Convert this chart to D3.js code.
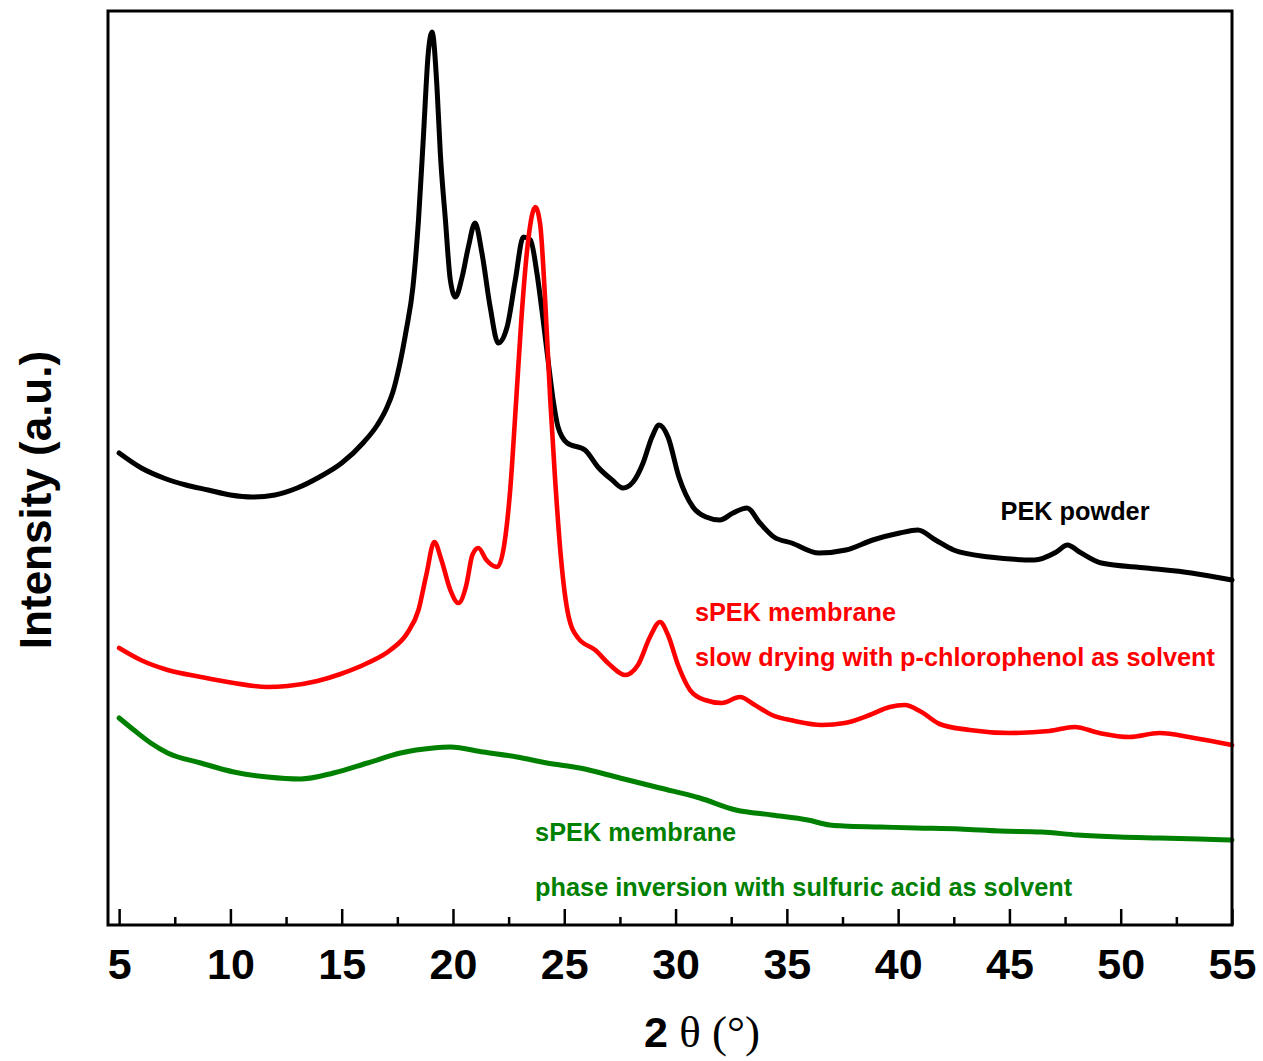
<!DOCTYPE html>
<html>
<head>
<meta charset="utf-8">
<script src="https://cdn.jsdelivr.net/npm/d3@7/dist/d3.min.js"></script>
<style>
  html, body { margin: 0; padding: 0; background: #fff; }
  svg { display: block; }
</style>
</head>
<body>
<svg id="chart" width="1263" height="1061"></svg>
<script>
// 2θ positions (degrees) and relative intensities (a.u.) for each pattern
const pekAngle = [5.0, 6.0, 7.0, 8.0, 9.0, 10.0, 11.0, 12.0, 13.0, 14.0, 15.0, 16.0, 16.6, 17.0, 17.3, 17.6, 17.9, 18.2, 18.45, 18.67, 18.89, 19.06, 19.28, 19.43, 19.66, 19.88, 20.11, 20.41, 20.69, 20.99, 21.3, 21.67, 22.03, 22.43, 22.8, 23.16, 23.48, 23.77, 24.05, 24.27, 24.5, 24.72, 25.13, 25.93, 26.51, 27.15, 27.64, 28.09, 28.54, 28.94, 29.26, 29.66, 30.15, 30.78, 31.37, 31.99, 32.58, 33.21, 33.79, 34.42, 35.22, 36.44, 37.65, 38.86, 40.07, 40.88, 41.68, 42.49, 44.1, 46.12, 47.11, 47.61, 48.15, 49.13, 51.15, 53.17, 55.0];
const pekIntensity = [472, 457, 447, 440, 435, 430, 428, 430, 437, 448, 462, 483, 500, 516, 533, 560, 595, 638, 705, 788, 872, 893, 838, 772, 705, 645, 628, 648, 678, 702, 672, 618, 582, 598, 645, 688, 685, 652, 605, 565, 525, 498, 482, 475, 458, 445, 437, 443, 462, 488, 500, 488, 448, 418, 408, 405, 412, 417, 402, 388, 382, 372, 375, 385, 392, 395, 385, 375, 368, 365, 373, 380, 373, 362, 357, 352, 345];

const slowAngle = [5.0, 5.97, 7.18, 8.67, 10.15, 11.67, 12.57, 13.91, 14.95, 16.16, 17.19, 17.95, 18.45, 18.8, 19.16, 19.48, 19.88, 20.24, 20.6, 20.87, 21.14, 21.5, 21.99, 22.3, 22.57, 22.84, 23.07, 23.38, 23.7, 23.92, 24.14, 24.37, 24.59, 24.86, 25.18, 25.62, 26.39, 27.06, 27.73, 28.31, 28.85, 29.3, 29.66, 30.11, 30.65, 31.32, 32.08, 32.89, 33.56, 34.33, 35.35, 36.57, 37.6, 38.72, 39.62, 40.29, 41.05, 41.86, 43.21, 45.0, 46.8, 47.92, 49.04, 50.39, 51.73, 53.3, 55.0];
const slowIntensity = [277, 265, 255, 248, 242, 238, 239, 244, 251, 262, 275, 292, 315, 350, 383, 365, 335, 322, 340, 370, 377, 365, 358, 380, 435, 525, 605, 685, 718, 700, 625, 525, 445, 365, 310, 287, 275, 260, 250, 260, 288, 303, 290, 260, 235, 225, 222, 228, 220, 210, 204, 200, 202, 210, 218, 220, 213, 201, 195, 192, 194, 198, 192, 188, 192, 187, 180];

const phaseAngle = [5.0, 5.66, 6.42, 7.18, 8.67, 10.15, 11.67, 13.15, 14.63, 16.16, 17.64, 19.12, 19.88, 21.36, 22.88, 24.22, 25.7, 27.5, 29.3, 31.09, 32.71, 34.32, 35.94, 36.92, 37.55, 39.19, 40.8, 42.77, 44.56, 46.44, 48.05, 49.94, 51.73, 53.52, 55.0];
const phaseIntensity = [207, 195, 182, 172, 162, 153, 148, 146, 152, 162, 172, 177, 178, 173, 168, 162, 157, 147, 137, 127, 115, 110, 105, 100, 99, 98, 97, 96, 94, 93, 90, 88, 87, 86, 85];

const majorTicks = [5, 10, 15, 20, 25, 30, 35, 40, 45, 50, 55];
const minorTicks = [7.5, 12.5, 17.5, 22.5, 27.5, 32.5, 37.5, 42.5, 47.5, 52.5];

const series = [
  { name: "PEK powder", angle: pekAngle, value: pekIntensity, color: "#000000", width: 5 },
  { name: "sPEK slow drying", angle: slowAngle, value: slowIntensity, color: "#ff0000", width: 4.6 },
  { name: "sPEK phase inversion", angle: phaseAngle, value: phaseIntensity, color: "#008000", width: 5 }
];

// sample annotations: [text, 2θ, intensity, colour]
const labels = [
  ["PEK powder", 44.6, 405, "#000000"],
  ["sPEK membrane", 30.87, 304, "#ff0000"],
  ["slow drying with p-chlorophenol as solvent", 30.87, 259, "#ff0000"],
  ["sPEK membrane", 23.69, 84, "#008000"],
  ["phase inversion with sulfuric acid as solvent", 23.69, 29, "#008000"]
];

const plot = { left: 108, right: 1232, top: 11, bottom: 925 };
const svg = d3.select("#chart");
const sans = "'Liberation Sans', Arial, Helvetica, sans-serif";

const x = d3.scaleLinear().domain([4.5, 55]).range([plot.left, plot.right]);
const y = d3.scaleLinear().domain([0, 914]).range([plot.bottom, plot.top]);

// diffraction patterns
const line = d3.line()
  .x(d => x(d[0]))
  .y(d => y(d[1]))
  .curve(d3.curveMonotoneX);

svg.append("g").selectAll("path")
  .data(series)
  .join("path")
  .attr("d", s => line(d3.zip(s.angle, s.value)))
  .attr("fill", "none")
  .attr("stroke", s => s.color)
  .attr("stroke-width", s => s.width)
  .attr("stroke-linejoin", "round")
  .attr("stroke-linecap", "round");

// plot frame
svg.append("rect")
  .attr("x", plot.left).attr("y", plot.top)
  .attr("width", plot.right - plot.left)
  .attr("height", plot.bottom - plot.top)
  .attr("fill", "none")
  .attr("stroke", "#000")
  .attr("stroke-width", 3);

// inward-pointing ticks on the bottom axis
const majorAxis = d3.axisBottom(x).tickValues(majorTicks).tickSize(-16).tickPadding(23).tickFormat(d3.format("d"));
const minorAxis = d3.axisBottom(x).tickValues(minorTicks).tickSize(-8).tickFormat("");

const gMajor = svg.append("g").attr("transform", `translate(0,${plot.bottom})`).call(majorAxis);
const gMinor = svg.append("g").attr("transform", `translate(0,${plot.bottom})`).call(minorAxis);
[gMajor, gMinor].forEach(g => {
  g.select(".domain").remove();
  g.selectAll(".tick line").attr("stroke", "#000").attr("stroke-width", 2.5);
});
gMajor.selectAll(".tick text")
  .attr("fill", "#000")
  .style("font-family", sans)
  .style("font-weight", "bold")
  .style("font-size", "43px");

// axis titles
const xTitle = svg.append("text")
  .attr("x", 702).attr("y", 1047)
  .attr("text-anchor", "middle")
  .attr("fill", "#000");
xTitle.append("tspan")
  .style("font-family", sans).style("font-weight", "bold").style("font-size", "43px")
  .text("2");
xTitle.append("tspan")
  .style("font-family", "'Liberation Serif', 'Times New Roman', serif").style("font-size", "45px")
  .text(" θ (°)");

svg.append("text")
  .attr("transform", "translate(51,500) rotate(-90)")
  .attr("text-anchor", "middle")
  .attr("fill", "#000")
  .style("font-family", sans)
  .style("font-weight", "bold")
  .style("font-size", "44px")
  .text("Intensity (a.u.)");

// sample annotations
svg.append("g").selectAll("text")
  .data(labels)
  .join("text")
  .attr("x", d => x(d[1]))
  .attr("y", d => y(d[2]))
  .attr("fill", d => d[3])
  .style("font-family", sans)
  .style("font-weight", "bold")
  .style("font-size", "25.3px")
  .text(d => d[0]);
</script>
</body>
</html>
